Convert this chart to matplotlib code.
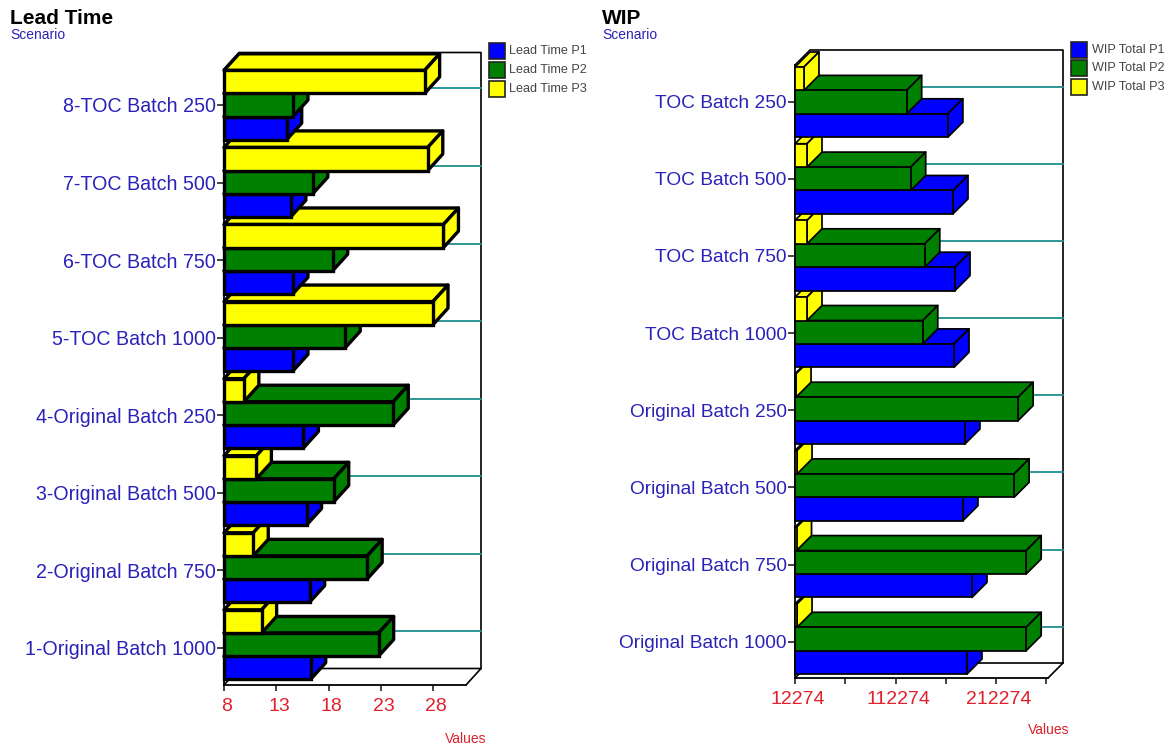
import matplotlib
matplotlib.use("Agg")
import matplotlib.pyplot as plt
import numpy as np
from matplotlib.lines import Line2D
from matplotlib.patches import Polygon, Rectangle
from matplotlib.transforms import IdentityTransform, ScaledTranslation

plt.rcParams["font.family"] = ["Liberation Sans", "DejaVu Sans"]

W, H = 1168, 747
DPI = 100

# Lead time per scenario, bottom to top
lead_scenarios = ["1-Original Batch 1000", "2-Original Batch 750", "3-Original Batch 500",
                  "4-Original Batch 250", "5-TOC Batch 1000", "6-TOC Batch 750",
                  "7-TOC Batch 500", "8-TOC Batch 250"]
lead_p1 = [16.3, 16.2, 15.9, 15.6, 14.6, 14.6, 14.4, 14.0]
lead_p2 = [22.8, 21.7, 18.5, 24.2, 19.6, 18.4, 16.5, 14.6]
lead_p3 = [11.6, 10.8, 11.1, 9.9, 28.0, 29.0, 27.5, 27.2]
lead_ticks = [8, 13, 18, 23, 28]
lead_ticklabels = ["8", "13", "18", "23", "28"]
lead_legend = ["Lead Time P1", "Lead Time P2", "Lead Time P3"]

# WIP totals per scenario, bottom to top
wip_scenarios = ["Original Batch 1000", "Original Batch 750", "Original Batch 500",
                 "Original Batch 250", "TOC Batch 1000", "TOC Batch 750",
                 "TOC Batch 500", "TOC Batch 250"]
wip_p1 = [183400, 188400, 179400, 181400, 170500, 171500, 169500, 164400]
wip_p2 = [242300, 242300, 230300, 234300, 139400, 141400, 127400, 123400]
wip_p3 = [14300, 13800, 14300, 13300, 24200, 24200, 24200, 21200]
wip_ticks = [12274, 62274, 112274, 162274, 212274, 262274]
wip_ticklabels = ["12274", "", "112274", "", "212274", ""]
wip_legend = ["WIP Total P1", "WIP Total P2", "WIP Total P3"]

colors = ["#0000ff", "#008000", "#ffff00"]
BLUE_TEXT = "#2a22b8"
RED_TEXT = "#e0202a"
TEAL = "#1f8f8f"

fig = plt.figure(figsize=(W / DPI, H / DPI), dpi=DPI, facecolor="white")


def px_x(x):
    return x / W


def px_y(y):
    return 1 - y / H


def panel(rect, xmin, px_per_unit, bar0, bar_step, bar_h, tick0, tick_step, depth, lw,
          names, series, ticks, ticklabels, legend, legend_x, legend_y, legend_step,
          swatch_h, title, title_x, scenario_x, values_xy, xlabel_pad, name_size):
    """Draw one pseudo-3D horizontal bar panel; rect is (left, top, right, bottom) in pixels."""
    left, top, right, bottom = rect
    ax = fig.add_axes([left / W, 1 - bottom / H, (right - left) / W, (bottom - top) / H])
    ax.set_facecolor("none")
    ax.set_xlim(xmin, xmin + (right - left) / px_per_unit)
    ax.set_ylim((bar0 - bottom) / bar_step, (bar0 - top) / bar_step)
    for name in ("top", "right"):
        ax.spines[name].set_visible(False)
    for name in ("left", "bottom"):
        ax.spines[name].set_linewidth(1.3)
        ax.spines[name].set_zorder(2)

    dx, dy = depth
    # Floor and back wall of the chart box
    wall = [[(left, bottom), (left + dx, bottom - dy), (right + dx, bottom - dy),
             (right, bottom)],
            [(right + dx, bottom - dy), (right + dx, top - dy), (left + dx, top - dy),
             (left, top)]]
    for path in wall:
        xs, ys = zip(*path)
        fig.add_artist(Line2D(np.array(xs) / W, 1 - np.array(ys) / H, color="black", lw=1.2,
                              transform=fig.transFigure, zorder=0))

    # Gridlines on the back wall
    ys = np.arange(len(names))
    tick_pos = (bar0 - (tick0 - tick_step * ys)) / bar_step
    for t in tick_pos:
        disp_y = ax.transData.transform((xmin, t))[1] + dy
        ax.add_line(Line2D([left + dx, right + dx], [disp_y, disp_y], color=TEAL, lw=1.3,
                           transform=IdentityTransform(), clip_on=False, zorder=1))

    z = 3
    to_disp = ax.transData.transform
    for i, y in enumerate(ys):
        for j, values in enumerate(series):
            v = values[i]
            yc = y + (j - 1) * bar_h
            lo, hi = yc - bar_h / 2, yc + bar_h / 2
            (x0, y_lo), (x1, y_hi) = to_disp([(xmin, lo), (v, hi)])
            side = [(x1, y_lo), (x1 + dx, y_lo + dy), (x1 + dx, y_hi + dy), (x1, y_hi)]
            lid = [(x0, y_hi), (x0 + dx, y_hi + dy), (x1 + dx, y_hi + dy), (x1, y_hi)]
            for face in (lid, side):
                ax.add_patch(Polygon(face, closed=True, facecolor=colors[j], edgecolor="black",
                                     lw=lw, joinstyle="round", transform=IdentityTransform(),
                                     clip_on=False, zorder=z))
            ax.barh(yc, v - xmin, height=bar_h, left=xmin, color=colors[j], edgecolor="black",
                    linewidth=lw, clip_on=False, zorder=z + 0.5)
            z += 1

    ax.set_yticks(tick_pos)
    ax.set_yticklabels(names, color=BLUE_TEXT, fontsize=name_size)
    ax.tick_params(axis="y", length=5, width=1.2, pad=1, color="#222222")
    ax.set_xticks(ticks)
    ax.set_xticklabels(ticklabels, color=RED_TEXT, fontsize=14)
    ax.tick_params(axis="x", length=4.5, width=1.2, pad=xlabel_pad, color="#222222")
    shift = ScaledTranslation(3 / DPI, 0, fig.dpi_scale_trans)
    for lab in ax.get_xticklabels():
        lab.set_transform(lab.get_transform() + shift)

    # Legend swatches and entries
    for k, (label, col) in enumerate(zip(legend, colors)):
        y_top = legend_y + k * legend_step
        fig.add_artist(Rectangle((px_x(legend_x), px_y(y_top + swatch_h)), 16 / W, swatch_h / H,
                                 facecolor=col, edgecolor="#222222", lw=1.2,
                                 transform=fig.transFigure))
        fig.text(px_x(legend_x + 20.5), px_y(y_top + swatch_h / 2), label, fontsize=9.1,
                 color="#454545", va="center", ha="left")

    fig.text(px_x(title_x), px_y(18.5), title, fontsize=15, fontweight="bold", color="black",
             va="center", ha="left")
    fig.text(px_x(scenario_x), px_y(35), "Scenario", fontsize=10, color=BLUE_TEXT,
             va="center", ha="left")
    fig.text(px_x(values_xy[0]), px_y(values_xy[1]), "Values", fontsize=10, color=RED_TEXT,
             va="center", ha="center")


panel(rect=(224, 69, 466, 685), xmin=8, px_per_unit=10.45, bar0=644.5, bar_step=77.07,
      bar_h=0.3, tick0=647.7, tick_step=77.53, depth=(15, 16.5), lw=2.4,
      names=lead_scenarios, series=[lead_p1, lead_p2, lead_p3], ticks=lead_ticks,
      ticklabels=lead_ticklabels, legend=lead_legend, legend_x=488.5, legend_y=43.5,
      legend_step=19, swatch_h=15.5, title="Lead Time", title_x=10, scenario_x=10,
      values_xy=(466, 739), xlabel_pad=5, name_size=14.1)

panel(rect=(795, 65, 1048, 678), xmin=12274, px_per_unit=0.001005, bar0=639, bar_step=76.7,
      bar_h=0.305, tick0=641.7, tick_step=77.14, depth=(15, 15), lw=1.25,
      names=wip_scenarios, series=[wip_p1, wip_p2, wip_p3], ticks=wip_ticks,
      ticklabels=wip_ticklabels, legend=wip_legend, legend_x=1071, legend_y=42,
      legend_step=18.5, swatch_h=15.5, title="WIP", title_x=602, scenario_x=602,
      values_xy=(1049, 730), xlabel_pad=5, name_size=13.8)

fig.savefig("out.png", dpi=DPI, facecolor="white")
